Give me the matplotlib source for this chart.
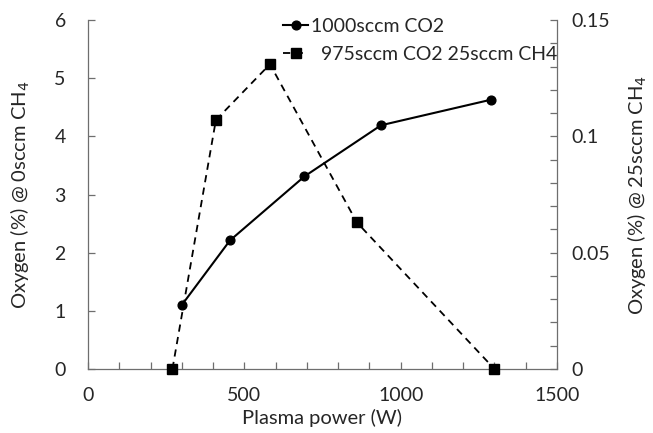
import matplotlib
matplotlib.use("Agg")
import matplotlib.pyplot as plt
from matplotlib.ticker import MultipleLocator

# Oxygen measured against plasma power, two feed gas mixtures
power_co2 = [300, 454, 692, 937, 1289]
oxygen_co2 = [1.1, 2.21, 3.31, 4.19, 4.63]

power_ch4 = [270, 409, 582, 860, 1300]
oxygen_ch4 = [0.0, 0.107, 0.131, 0.063, 0.0]

label_co2 = "1000sccm CO2"
label_ch4 = "  975sccm CO2 25sccm CH4"

plt.rcParams['font.family'] = ['Lato', 'DejaVu Sans']
plt.rcParams['font.size'] = 14
txt = '#262626'
spine_col = '#6e6e6e'

fig = plt.figure(figsize=(6.53, 4.33), dpi=100)
ax = fig.add_axes([88/653, 1-369/433, (557-88)/653, (369-20)/433])
ax2 = ax.twinx()

l1, = ax.plot(power_co2, oxygen_co2, color='black', lw=1.5, marker='o', ms=6.3,
              label=label_co2, clip_on=False, zorder=3)
l2, = ax2.plot(power_ch4, oxygen_ch4, color='black', lw=1.3, ls=(0, (4, 3)), marker='s', ms=6.5,
               label=label_ch4, clip_on=False, zorder=3)

ax.set_xlim(0, 1500)
ax.set_ylim(0, 6)
ax2.set_ylim(0, 0.15)

ax.xaxis.set_major_locator(MultipleLocator(500))
ax.xaxis.set_minor_locator(MultipleLocator(100))
ax.yaxis.set_major_locator(MultipleLocator(1))
ax2.yaxis.set_minor_locator(MultipleLocator(0.01))
ax2.set_yticks([0, 0.05, 0.1, 0.15])
ax2.set_yticklabels(['0', '0.05', '0.1', '0.15'])

for a in (ax, ax2):
    a.spines['top'].set_visible(False)
    for s in a.spines.values():
        s.set_color(spine_col)
        s.set_linewidth(0.9)
    a.tick_params(which='both', direction='in', length=5, width=0.9, color=spine_col, labelcolor=txt)

ax.tick_params(axis='x', which='both', pad=13)
ax.tick_params(axis='y', which='both', pad=16)
ax2.tick_params(axis='y', which='both', pad=10)
ax.spines['right'].set_visible(False)
ax2.spines['left'].set_visible(False)
ax2.spines['bottom'].set_visible(False)

ax.set_xlabel('Plasma power (W)', color=txt, fontsize=14.5)
ax.set_ylabel('Oxygen (%) @ 0sccm CH$_4$', color=txt, fontsize=14.5)
ax2.set_ylabel('Oxygen (%) @ 25sccm CH$_4$', color=txt, fontsize=14.5)
ax.xaxis.set_label_coords(0.5, -(418-369)/349, transform=ax.transAxes)
ax.yaxis.set_label_coords((20-88)/469, 0.5)
ax2.yaxis.set_label_coords((637-88)/469, 0.5)
ax.xaxis.label.set_va('center')
ax.yaxis.label.set_va('center')
ax2.yaxis.label.set_va('center')

fig.legend(handles=[l1, l2], loc='upper left', bbox_to_anchor=(283/653, 1-18/433),
           frameon=False, handlelength=1.3, handletextpad=0.15, labelspacing=0.55,
           borderpad=0, borderaxespad=0, labelcolor=txt)

fig.savefig('out.png', dpi=100)
